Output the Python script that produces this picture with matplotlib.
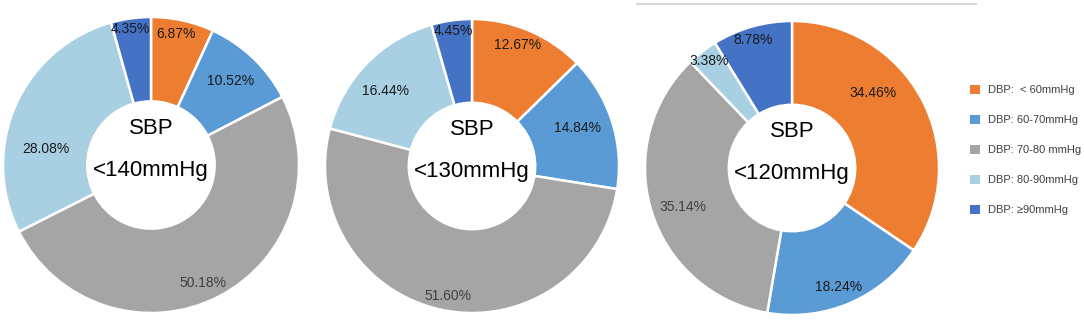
import numpy as np
import matplotlib
matplotlib.use("Agg")
import matplotlib.pyplot as plt
from matplotlib.lines import Line2D

plt.rcParams['font.family'] = ['Liberation Sans', 'DejaVu Sans']

categories = ["DBP:  < 60mmHg", "DBP: 60-70mmHg", "DBP: 70-80 mmHg", "DBP: 80-90mmHg", "DBP: \u226590mmHg"]
colors = ["#ED7D31", "#5B9BD5", "#A5A5A5", "#A9CFE3", "#4472C4"]

titles = ["<140mmHg", "<130mmHg", "<120mmHg"]
sbp140 = [6.87, 10.52, 50.18, 28.08, 4.35]
sbp130 = [12.67, 14.84, 51.60, 16.44, 4.45]
sbp120 = [34.46, 18.24, 35.14, 3.38, 8.78]
series = [sbp140, sbp130, sbp120]

# label placement style (radial fraction, clockwise angle offset in degrees)
label_r = [[0.90, 0.78, 0.87, 0.72, 0.93],
           [0.88, 0.76, 0.90, 0.78, 0.93],
           [0.75, 0.87, 0.79, 0.92, 0.91]]
label_off = [[-1.6, 0, 3.3, -15, -1],
             [-2.4, -2.2, -1.4, -3.6, 0],
             [-14.8, 2, -2.7, 0, -1]]

W, H = 1084, 320
fig = plt.figure(figsize=(W / 100, H / 100), dpi=100)

centers = [(151, 165, 148), (472, 166, 147), (792, 168, 147)]
wedges_ref = None
for i, (vals, (cx, cy, r)) in enumerate(zip(series, centers)):
    ax = fig.add_axes([(cx - r) / W, (H - cy - r) / H, 2 * r / W, 2 * r / H])
    wedges, _ = ax.pie(vals, colors=colors, startangle=90, counterclock=False,
                       wedgeprops=dict(width=0.57, edgecolor="white", linewidth=1.8),
                       radius=1.0)
    if wedges_ref is None:
        wedges_ref = wedges
    for j, (w, v) in enumerate(zip(wedges, vals)):
        mid = (w.theta1 + w.theta2) / 2.0 - label_off[i][j]
        rr = label_r[i][j]
        ax.text(rr * np.cos(np.radians(mid)), rr * np.sin(np.radians(mid)),
                f"{v:.2f}%", ha="center", va="center", fontsize=10,
                color="#404040" if j == 2 else "#1a1a1a")
    ax.text(0, 0.25, "SBP", ha="center", va="center", fontsize=16, color="black")
    ax.text(0, -0.04, titles[i], ha="center", va="center", fontsize=16, color="black")
    ax.set_xlim(-1, 1)
    ax.set_ylim(-1, 1)
    ax.set_aspect("auto")
    ax.axis("off")

fig.add_artist(Line2D([637 / W, 976 / W], [(H - 4) / H, (H - 4) / H],
                      color="#d9d9d9", linewidth=1.5))

leg = fig.legend(wedges_ref, categories, loc="upper left",
                 bbox_to_anchor=(960 / W, (H - 75) / H), frameon=False,
                 fontsize=8, handlelength=0.9, handleheight=0.9,
                 labelspacing=1.75, handletextpad=0.7, labelcolor="#404040")
for h in leg.legend_handles:
    h.set_edgecolor("none")

fig.savefig("out.png", dpi=100, facecolor="white")
